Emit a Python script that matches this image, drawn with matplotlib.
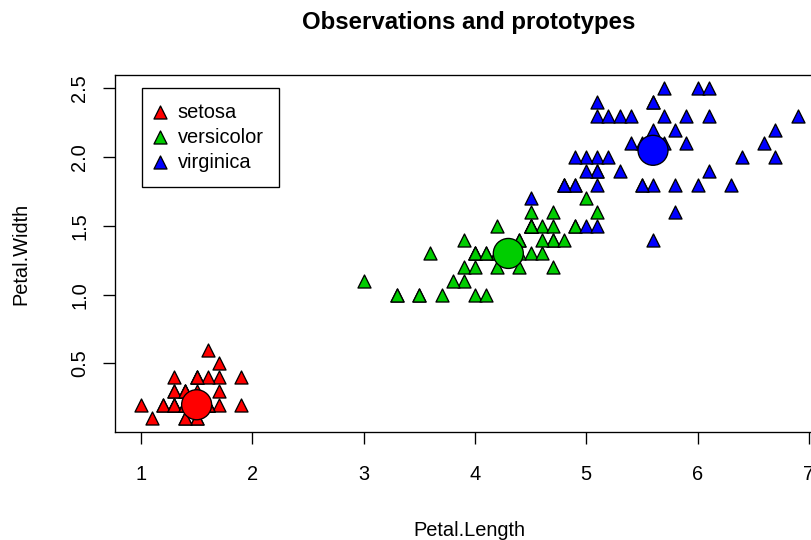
import matplotlib.pyplot as plt

plt.rcParams['font.family'] = ['Liberation Sans', 'DejaVu Sans']

# iris petal measurements per species
setosa_len = [1.4, 1.4, 1.3, 1.5, 1.4, 1.7, 1.4, 1.5, 1.4, 1.5, 1.5, 1.6, 1.4, 1.1, 1.2, 1.5, 1.3,
              1.4, 1.7, 1.5, 1.7, 1.5, 1.0, 1.7, 1.9, 1.6, 1.6, 1.5, 1.4, 1.6, 1.6, 1.5, 1.5, 1.4,
              1.5, 1.2, 1.3, 1.4, 1.3, 1.5, 1.3, 1.3, 1.3, 1.6, 1.9, 1.4, 1.6, 1.4, 1.5, 1.4]
setosa_wid = [0.2, 0.2, 0.2, 0.2, 0.2, 0.4, 0.3, 0.2, 0.2, 0.1, 0.2, 0.2, 0.1, 0.1, 0.2, 0.4, 0.4,
              0.3, 0.3, 0.3, 0.2, 0.4, 0.2, 0.5, 0.2, 0.2, 0.4, 0.2, 0.2, 0.2, 0.2, 0.4, 0.1, 0.2,
              0.2, 0.2, 0.2, 0.1, 0.2, 0.2, 0.3, 0.3, 0.2, 0.6, 0.4, 0.3, 0.2, 0.2, 0.2, 0.2]
versi_len = [4.7, 4.5, 4.9, 4.0, 4.6, 4.5, 4.7, 3.3, 4.6, 3.9, 3.5, 4.2, 4.0, 4.7, 3.6, 4.4, 4.5,
             4.1, 4.5, 3.9, 4.8, 4.0, 4.9, 4.7, 4.3, 4.4, 4.8, 5.0, 4.5, 3.5, 3.8, 3.7, 3.9, 5.1,
             4.5, 4.5, 4.7, 4.4, 4.1, 4.0, 4.4, 4.6, 4.0, 3.3, 4.2, 4.2, 4.2, 4.3, 3.0, 4.1]
versi_wid = [1.4, 1.5, 1.5, 1.3, 1.5, 1.3, 1.6, 1.0, 1.3, 1.4, 1.0, 1.5, 1.0, 1.4, 1.3, 1.4, 1.5,
             1.0, 1.5, 1.1, 1.8, 1.3, 1.5, 1.2, 1.3, 1.4, 1.4, 1.7, 1.5, 1.0, 1.1, 1.0, 1.2, 1.6,
             1.5, 1.6, 1.5, 1.3, 1.3, 1.3, 1.2, 1.4, 1.2, 1.0, 1.3, 1.2, 1.3, 1.3, 1.1, 1.3]
virg_len = [6.0, 5.1, 5.9, 5.6, 5.8, 6.6, 4.5, 6.3, 5.8, 6.1, 5.1, 5.3, 5.5, 5.0, 5.1, 5.3, 5.5,
            6.7, 6.9, 5.0, 5.7, 4.9, 6.7, 4.9, 5.7, 6.0, 4.8, 4.9, 5.6, 5.8, 6.1, 6.4, 5.6, 5.1,
            5.6, 6.1, 5.6, 5.5, 4.8, 5.4, 5.6, 5.1, 5.1, 5.9, 5.7, 5.2, 5.0, 5.2, 5.4, 5.1]
virg_wid = [2.5, 1.9, 2.1, 1.8, 2.2, 2.1, 1.7, 1.8, 1.8, 2.5, 2.0, 1.9, 2.1, 2.0, 2.4, 2.3, 1.8,
            2.2, 2.3, 1.5, 2.3, 2.0, 2.0, 1.8, 2.1, 1.8, 1.8, 1.8, 2.1, 1.6, 1.9, 2.0, 2.2, 1.5,
            1.4, 2.3, 2.4, 1.8, 1.8, 2.1, 2.4, 2.3, 1.9, 2.3, 2.5, 2.3, 1.9, 2.0, 2.3, 1.8]

species = ['setosa', 'versicolor', 'virginica']
colors = ['#FF0000', '#00CD00', '#0000FF']

# prototypes (one per species)
proto_len = [1.5, 4.3, 5.6]
proto_wid = [0.2, 1.3, 2.05]

fig = plt.figure(figsize=(811 / 120, 540 / 120), dpi=120)
# plot region runs a bit past the right edge of the image, as in the original
ax = fig.add_axes([114.7 / 811, (540 - 431.7) / 540, (824 - 114.7) / 811, (431.7 - 75.2) / 540])

data = [(setosa_len, setosa_wid), (versi_len, versi_wid), (virg_len, virg_wid)]
handles = []
for (xs, ys), col, name in zip(data, colors, species):
    h = ax.scatter(xs, ys, marker='^', s=7.8 ** 2, c=col, edgecolors='black',
                   linewidths=0.8, label=name, zorder=2)
    handles.append(h)

ax.scatter(proto_len, proto_wid, marker='o', s=18 ** 2, c=colors, edgecolors='black',
           linewidths=0.8, zorder=3)

ax.set_xlim(0.764, 7.136)
ax.set_ylim(0.004, 2.596)
ax.set_xticks([1, 2, 3, 4, 5, 6, 7])
ax.set_yticks([0.5, 1.0, 1.5, 2.0, 2.5])
ax.set_yticklabels(['0.5', '1.0', '1.5', '2.0', '2.5'])
ax.tick_params(length=7.2, width=0.8, labelsize=12)
ax.tick_params(axis='x', pad=13)
ax.tick_params(axis='y', pad=8)
plt.setp(ax.get_yticklabels(), rotation=90, va='center', ha='right')
for sp in ax.spines.values():
    sp.set_linewidth(0.8)

ax.set_xlabel('Petal.Length', fontsize=12)
ax.set_ylabel('Petal.Width', fontsize=12)
ax.xaxis.set_label_coords(0.5, -(530 - 431.7) / 356.5)
ax.xaxis.label.set_va('center')
ax.yaxis.set_label_coords(-(114.7 - 21) / 709.3, 0.5)
ax.yaxis.label.set_va('center')

fig.text(469 / 811, 1 - 29 / 540, 'Observations and prototypes', fontsize=14.4,
         fontweight='bold', ha='center', va='baseline')

leg = ax.legend(handles=handles, loc='upper left', bbox_to_anchor=(0.0381, 0.965),
                borderaxespad=0, fontsize=12, fancybox=False, framealpha=1,
                edgecolor='black', scatterpoints=1, handletextpad=0.75,
                labelspacing=0.3, borderpad=0.75, handlelength=0.3)
leg.get_frame().set_linewidth(0.8)

plt.savefig('out.png', dpi=120)
